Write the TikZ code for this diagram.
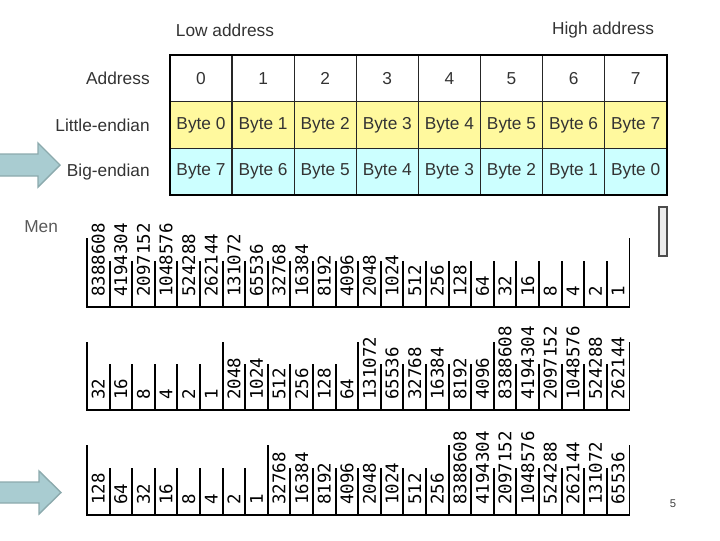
\documentclass[tikz,border=0pt]{standalone}
\usepackage{fontspec}
\setmainfont{Liberation Sans}
\newfontfamily\bitfont{DejaVu Sans Mono}
\usetikzlibrary{positioning}
\definecolor{lowyel}{HTML}{FFF99E}
\definecolor{bigcyan}{HTML}{CCFFFF}
\definecolor{arrowfill}{HTML}{A9CCD1}
\definecolor{arrowedge}{HTML}{8CAAAD}
\tikzset{cell/.style={draw=black!85, line width=0.8pt, minimum width=1.5525cm, minimum height=1.1675cm, inner sep=0pt, outer sep=0pt, text=black!80, font=\fontsize{12.3}{14}\selectfont}}
\tikzset{lab/.style={anchor=east, text=black!80, inner sep=0pt, font=\fontsize{12.3}{14}\selectfont}}
\tikzset{bit/.style={rotate=90, anchor=west, inner sep=0pt, font=\bitfont\fontsize{12.4}{14}\selectfont}}
\tikzset{bitline/.style={line width=1.3pt}}
\tikzset{bitfloor/.style={line width=2pt}}
\tikzset{fatarrow/.style={fill=arrowfill, draw=arrowedge, line width=1pt}}

\begin{document}
\begin{tikzpicture}[x=0.025cm, y=-0.025cm]
                \useasboundingbox (0,0) rectangle (720,540);
                % address table
                \node[lab, anchor=center] (low) at (225,30) {Low address};
                \node[lab, anchor=center] (high) at (603,30) {High address};
                \foreach \i in {0,...,7} {
                    \pgfmathtruncatemacro\j{7-\i}
                    \node[cell] (ad\i) at (201+62.1*\i,78.35) {\i};
                    \node[cell,fill=lowyel] (le\i) at (201+62.1*\i,125.05) {Byte \i};
                    \node[cell,fill=bigcyan] (be\i) at (201+62.1*\i,171.75) {Byte \j};
                }
                \draw[line width=1.5pt] (ad0.north west) rectangle (be7.south east);
                \node[lab, left=0.5cm of ad0] (addr) {Address};
                \node[lab, left=0.5cm of le0] (little) {Little-endian};
                \node[lab, left=0.5cm of be0] (big) {Big-endian};
                \node[lab, anchor=west, text=black!65] (mem) at (24,227) {Men};
                % bit weights
                \foreach \v [count=\i from 0] in {8388608,4194304,2097152,1048576,524288,262144,131072,65536,32768,16384,8192,4096,2048,1024,512,256,128,64,32,16,8,4,2,1}
                    \node[bit] (wa\i) at (98.3+22.6*\i,297) {\v};
                \foreach \k in {1,...,23} \draw[bitline] (87+22.6*\k,307) -- ++(0,-46);
                \foreach \k in {0,24} \draw[bitline] (87+22.6*\k,307) -- ++(0,-69);
                \draw[bitfloor] (86,307) -- (630.4,307);
                \foreach \v [count=\i from 0] in {32,16,8,4,2,1,2048,1024,512,256,128,64,131072,65536,32768,16384,8192,4096,8388608,4194304,2097152,1048576,524288,262144}
                    \node[bit] (wb\i) at (98.3+22.6*\i,400) {\v};
                \foreach \k in {1,...,23} \draw[bitline] (87+22.6*\k,410) -- ++(0,-46);
                \foreach \k in {0,6,12,18,24} \draw[bitline] (87+22.6*\k,410) -- ++(0,-68);
                \draw[bitfloor] (86,410) -- (630.4,410);
                \foreach \v [count=\i from 0] in {128,64,32,16,8,4,2,1,32768,16384,8192,4096,2048,1024,512,256,8388608,4194304,2097152,1048576,524288,262144,131072,65536}
                    \node[bit] (wc\i) at (98.3+22.6*\i,505) {\v};
                \foreach \k in {1,...,23} \draw[bitline] (87+22.6*\k,515) -- ++(0,-47);
                \foreach \k in {0,8,16,24} \draw[bitline] (87+22.6*\k,515) -- ++(0,-70);
                \draw[bitfloor] (86,515) -- (630.4,515);
                % arrows and the rest
                \draw[fatarrow] (-3,154) -- (38,154) -- (38,143) -- (60,165) -- (38,187) -- (38,176) -- (-3,176) -- cycle;
                \draw[fatarrow] (-3,482) -- (39,482) -- (39,471) -- (61,492.5) -- (39,514) -- (39,503) -- (-3,503) -- cycle;
                \draw[fill=gray!15, draw=gray!60!black, line width=1pt] (659,207) rectangle (667,256);
                \node[text=black!75, font=\fontsize{8}{10}\selectfont] (page) at (673,504) {5};
            \end{tikzpicture}
\end{document}
